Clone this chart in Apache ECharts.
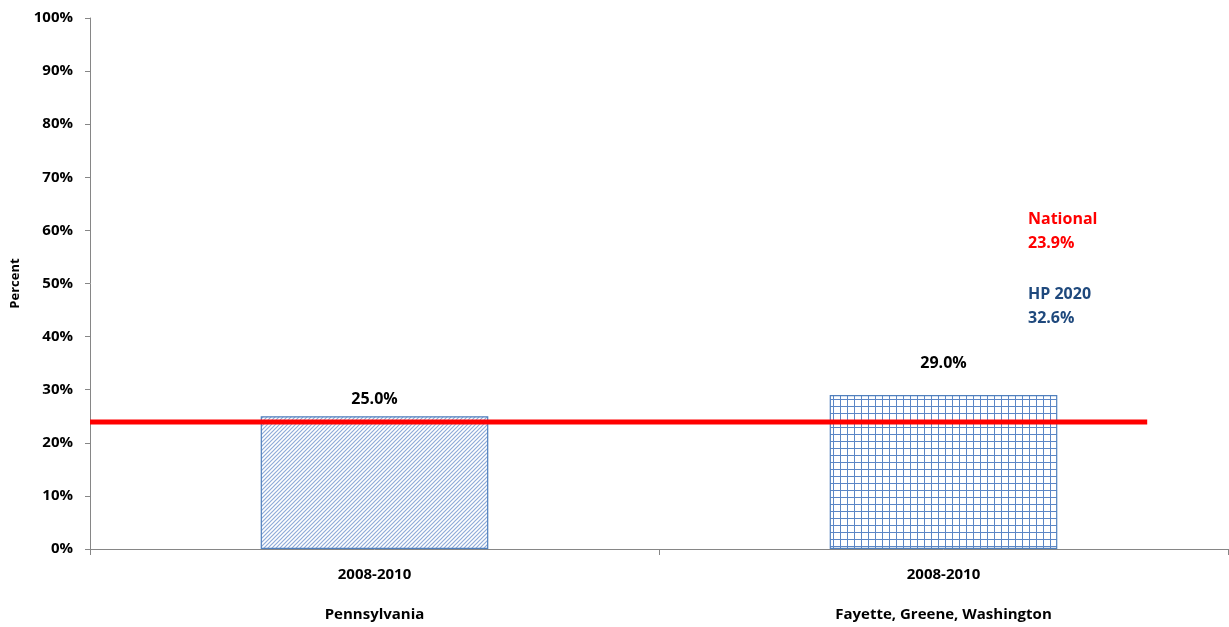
<!DOCTYPE html>
<html>
<head>
<meta charset="utf-8">
<script src="https://cdn.jsdelivr.net/npm/echarts@6/dist/echarts.min.js"></script>
<style>
  html, body { margin: 0; padding: 0; background: #fff; }
  #main { width: 1229px; height: 627px; }
</style>
</head>
<body>
<div id="main"></div>
<script>
(function () {
  'use strict';

  // data
  var periods = ['2008-2010', '2008-2010'];
  var regions = ['Pennsylvania', 'Fayette, Greene, Washington'];
  var values = [25.0, 29.0];
  var nationalValue = 23.9;
  var hp2020Value = 32.6;
  var nationalSpan = [0, 0.929];
  var yTicks = [0, 10, 20, 30, 40, 50, 60, 70, 80, 90, 100];

  var font = '"Open Sans", "Noto Sans", sans-serif';

  // hatch patterns for the bars
  function diagonalPattern() {
    var c = document.createElement('canvas');
    c.width = 4; c.height = 4;
    var g = c.getContext('2d');
    g.fillStyle = '#ffffff';
    g.fillRect(0, 0, 4, 4);
    g.strokeStyle = '#8fabd8';
    g.lineWidth = 1.2;
    g.beginPath();
    g.moveTo(-1, 5); g.lineTo(5, -1);
    g.moveTo(-1, 1); g.lineTo(1, -1);
    g.moveTo(3, 5); g.lineTo(5, 3);
    g.stroke();
    return c;
  }
  function gridPattern() {
    var c = document.createElement('canvas');
    c.width = 7; c.height = 7;
    var g = c.getContext('2d');
    g.fillStyle = '#ffffff';
    g.fillRect(0, 0, 7, 7);
    g.fillStyle = '#5b86c6';
    g.fillRect(0, 0, 7, 1);
    g.fillRect(0, 0, 1, 7);
    return c;
  }
  var patterns = [diagonalPattern(), gridPattern()];
  var labelDistance = [9, 24];

  var myChart = echarts.init(document.getElementById('main'));

  var option = {
    animation: false,
    textStyle: { fontFamily: font },
    grid: { left: 90, right: 1, top: 18, bottom: 78, outerBoundsMode: 'none', containLabel: false },
    xAxis: [
      {
        type: 'category',
        data: periods.map(function (p, i) { return p + '\n\n' + regions[i]; }),
        axisLine: { lineStyle: { color: '#868686' } },
        axisTick: { show: true, length: 6, lineStyle: { color: '#868686' } },
        axisLabel: {
          color: '#000', fontWeight: 'bold', fontSize: 15, lineHeight: 20,
          margin: 16, fontFamily: font
        },
        splitLine: { show: false }
      },
      {
        type: 'value', min: 0, max: 1, show: false
      }
    ],
    yAxis: {
      type: 'value',
      min: yTicks[0],
      max: yTicks[yTicks.length - 1],
      interval: 10,
      name: 'Percent',
      nameLocation: 'middle',
      nameGap: 68,
      nameTextStyle: { color: '#000', fontWeight: 'bold', fontSize: 13, fontFamily: font },
      axisLine: { show: true, lineStyle: { color: '#868686' } },
      axisTick: { show: true, length: 5, lineStyle: { color: '#868686' } },
      axisLabel: {
        color: '#000', fontWeight: 'bold', fontSize: 15, margin: 17, fontFamily: font,
        formatter: '{value}%'
      },
      splitLine: { show: false }
    },
    series: [
      {
        type: 'bar',
        barWidth: '40%',
        data: values.map(function (v, i) {
          return {
            value: v,
            itemStyle: { color: { image: patterns[i], repeat: 'repeat' } },
            label: { distance: labelDistance[i] }
          };
        }),
        itemStyle: { borderColor: '#4f7fbd', borderWidth: 1.2 },
        label: {
          show: true, position: 'top', color: '#000', fontWeight: 'bold',
          fontSize: 16, fontFamily: font,
          formatter: function (p) { return p.value.toFixed(1) + '%'; }
        },
        z: 2
      },
      {
        type: 'line',
        xAxisIndex: 1,
        data: nationalSpan.map(function (x) { return [x, nationalValue]; }),
        symbol: 'none',
        lineStyle: { color: '#ff0000', width: 5 },
        z: 5
      }
    ],
    graphic: [
      {
        type: 'text', left: 1028, top: 207,
        style: {
          text: 'National\n' + nationalValue.toFixed(1) + '%',
          fill: '#ff0000', font: 'bold 16px ' + font, lineHeight: 24
        }
      },
      {
        type: 'text', left: 1028, top: 282,
        style: {
          text: 'HP 2020\n' + hp2020Value.toFixed(1) + '%',
          fill: '#1f497d', font: 'bold 16px ' + font, lineHeight: 24
        }
      }
    ]
  };

  myChart.setOption(option);
}());
</script>
</body>
</html>
